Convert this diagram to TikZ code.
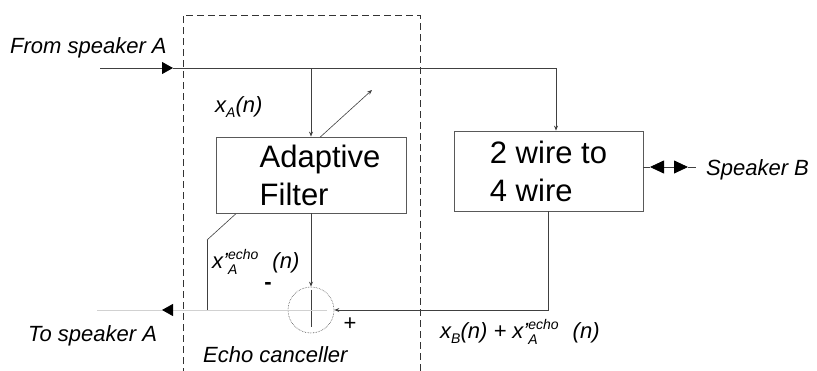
\documentclass[tikz,border=0pt]{standalone}
\usepackage{fontspec}
\setmainfont{Liberation Sans}
\usetikzlibrary{arrows.meta,calc}
\newcommand{\xecho}{x'\rlap{\raisebox{-6pt}{\fontsize{14}{14}\selectfont A}}%
  \raisebox{9pt}{\fontsize{14}{14}\selectfont echo}\hspace{14pt}(n)}
\tikzset{
  blk/.style={draw=black!65, fill=white, line width=0.8pt, inner sep=0pt,
    align=left, font=\fontsize{31}{38}\selectfont},
  lab/.style={font=\fontsize{22}{26}\selectfont\itshape, inner sep=0pt},
  sig/.style={line width=0.8pt, draw=black!75},
  faint/.style={line width=0.8pt, draw=black!18},
  tip/.style={-{Stealth[length=5pt,width=4pt]}},
  tri/.style={-{Triangle[length=11pt,width=12pt,color=black]}},
}

\begin{document}
\begin{tikzpicture}[x=1pt,y=-1pt]
  \useasboundingbox (0,0) rectangle (817,370);
  % echo canceller boundary
  \draw[black!80, line width=1pt, dash pattern=on 7pt off 4pt]
    (183,375) -- (183,15) -- (420,15) -- (420,375);
  % adaptation path, runs under the filter box
  \coordinate (err) at (207,310);
  \coordinate (bend) at (207,240);
  \draw[sig, line width=1pt] (err) -- (bend);
  \draw[black!75, line width=0.6pt, tip] (bend) -- (372,90);
  \node[blk, minimum width=190, minimum height=76] (af) at (311,175)
    {\hspace*{18pt}Adaptive\\\hspace*{18pt}Filter};
  \node[blk, minimum width=189, minimum height=80] (hyb) at (548.5,171)
    {2 wire to\\4 wire};
  \node[circle, draw=black!70, densely dotted, line width=0.6pt,
    minimum size=46, inner sep=0pt] (sum) at (311,310) {};
  % signal from speaker A
  \coordinate (inA) at (100,68);
  \coordinate (tipA) at (173,68);
  \coordinate (tap) at (311,68);
  \draw[sig, tri] (inA) -- (tipA);
  \draw[sig, tip] (tipA) -| ([xshift=7.5]hyb.north);
  \draw[sig, tip] (tap) -- (af.north);
  \draw[sig, tip] (af.south) -- (sum.north);
  \draw[sig] ([yshift=-3]sum.north) -- ([yshift=6]sum.south);
  % return path to speaker A
  \draw[sig, tip] (hyb.south) |- (sum.east);
  \coordinate (tipB) at (162,310);
  \coordinate (outA) at (97,310);
  \draw[faint] ([xshift=16]sum.center) -- (sum.west);
  \draw[faint, tri] (sum.west) -- (tipB);
  \draw[faint] (tipB) -- (outA);
  % speaker B port
  \coordinate (bL) at (650,167);
  \coordinate (bR) at (688,167);
  \coordinate (bEnd) at (696,167);
  \draw[sig] ([yshift=4]hyb.east) -- (bL);
  \draw[sig, {Triangle[length=14pt,width=13pt,color=black]}-{Triangle[length=14pt,width=13pt,color=black]}] (bL) -- (bR);
  \draw[sig] (bR) -- (bEnd);
  % labels
  \node[lab, anchor=base west] (fromA) at (10,53) {From speaker A};
  \node[lab, anchor=base west] (toA) at (28,341) {To speaker A};
  \node[lab, anchor=base west] (spkB) at (706,175) {Speaker B};
  \node[lab, anchor=base west] (ecl) at (203,362) {Echo canceller};
  \node[lab, anchor=base west] (xa) at (215,112)
    {x\raisebox{-5pt}{\fontsize{14}{14}\selectfont A}(n)};
  \node[lab, anchor=base west] (xe) at (212,268) {\xecho};
  \node[lab, anchor=base west] (xb) at (440,338)
    {x\raisebox{-5pt}{\fontsize{14}{14}\selectfont B}(n) + \xecho};
  \node[lab, font=\fontsize{22}{26}\selectfont\bfseries] (minus) at (268,286) {-};
  \node[lab, font=\fontsize{22}{26}\selectfont] (plus) at (350,324) {+};
\end{tikzpicture}
\end{document}
